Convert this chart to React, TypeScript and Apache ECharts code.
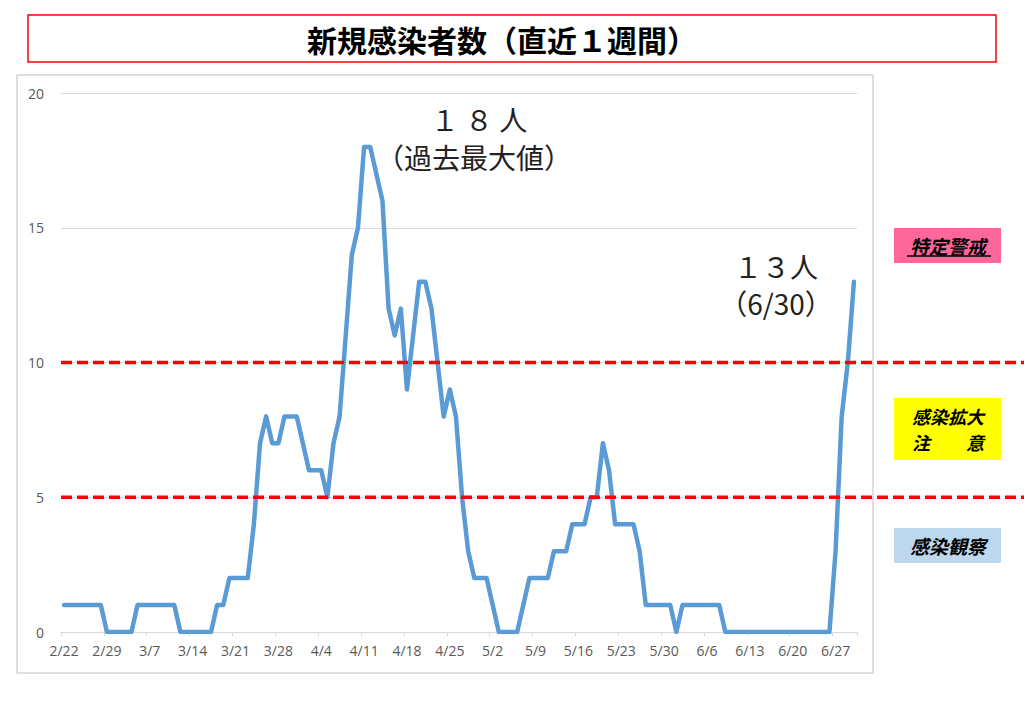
import React, { useEffect, useRef } from "react";
import * as echarts from "echarts";

// month, first day, last day (2020)
const monthSpans: number[][] = [
  [2, 22, 29],
  [3, 1, 31],
  [4, 1, 30],
  [5, 1, 31],
  [6, 1, 30],
];
const categories: string[] = [];
for (const [m, a, b] of monthSpans) for (let d = a; d <= b; d++) categories.push(`${m}/${d}`);

// daily new cases 2/22 .. 6/30
const newCases = [
  1, 1, 1, 1, 1, 1, 1, 0, 0, 0, 0, 0, 1, 1, 1, 1, 1, 1, 1, 0, 0, 0, 0, 0, 0, 1, 1, 2, 2, 2, 2,
  4, 7, 8, 7, 7, 8, 8, 8, 7, 6, 6, 6, 5, 7, 8, 11, 14, 15,
  18, 18, 17, 16, 12, 11, 12, 9, 11, 13, 13, 12, 10, 8, 9, 8,
  5, 3, 2, 2, 2, 1, 0, 0, 0, 0, 1, 2, 2, 2, 2, 3, 3, 3, 4, 4, 4, 5, 5, 7, 6, 4, 4, 4, 4, 3,
  1, 1, 1, 1, 1, 0, 1, 1, 1, 1, 1, 1, 1,
  0, 0, 0, 0, 0, 0, 0, 0, 0, 0, 0, 0, 0, 0, 0, 0, 0, 0,
  3, 8, 10, 13,
];

const yMin = 0;
const yMax = 20;
const yInterval = 5;
const thresholds = [10, 5];

const titleText = "新規感染者数（直近１週間）";
const peakNote = ["１ ８ 人", "（過去最大値）"];
const lastNote = ["１３人", "（6/30）"];
const stageLines = [["特定警戒"], ["感染拡大", "注　　意"], ["感染観察"]];
const stageColors = ["#FF6699", "#FFFF00", "#BDD7EE"];

const GRID_LEFT = 61;
const GRID_RIGHT = 167;
const JP = '"Noto Sans CJK JP", "Noto Sans", sans-serif';
const NUM = '"Open Sans", "Noto Sans", sans-serif';

export default function App() {
  const ref = useRef<HTMLDivElement>(null);
  useEffect(() => {
    if (!ref.current) return;
    const chart = echarts.init(ref.current, undefined, { renderer: "svg" });
    chart.setOption({
      animation: false,
      backgroundColor: "#FFFFFF",
      grid: { left: GRID_LEFT, right: GRID_RIGHT, top: 93, bottom: 77 },
      xAxis: {
        type: "category",
        data: categories,
        boundaryGap: true,
        axisLine: { lineStyle: { color: "#D9D9D9", width: 1 } },
        axisTick: { show: true, interval: 6, length: 4, lineStyle: { color: "#D9D9D9" } },
        axisLabel: { interval: 6, color: "#595959", fontSize: 14, fontFamily: NUM, margin: 11 },
      },
      yAxis: {
        type: "value",
        min: yMin,
        max: yMax,
        interval: yInterval,
        axisLine: { show: false },
        axisTick: { show: false },
        axisLabel: { color: "#595959", fontSize: 14, fontFamily: NUM, margin: 17 },
        splitLine: { lineStyle: { color: "#D9D9D9", width: 1 } },
      },
      series: [
        {
          type: "line",
          data: newCases,
          symbol: "none",
          z: 2,
          lineStyle: { color: "#5B9BD5", width: 4.5, join: "round", cap: "round" },
        },
      ],
    });

    const yOf = (v: number) => chart.convertToPixel({ yAxisIndex: 0 }, v) as number;
    const xOf = (i: number) => chart.convertToPixel({ xAxisIndex: 0 }, i) as number;

    const peakIdx = newCases.indexOf(Math.max(...newCases));
    const lastIdx = newCases.length - 1;

    const note = (text: string, x: number, y: number) => ({
      type: "text",
      x,
      y,
      style: { text, fill: "#222222", fontSize: 28, fontFamily: JP, align: "center", verticalAlign: "middle" },
      z: 60,
    });

    const graphics: any[] = [];
    // title box
    graphics.push({
      type: "rect",
      shape: { x: 28, y: 15, width: 968, height: 47 },
      style: { fill: "none", stroke: "#FF0000", lineWidth: 1.5 },
      z: 50,
    });
    graphics.push({
      type: "text",
      x: 502,
      y: 39,
      style: {
        text: titleText,
        fill: "#000000",
        fontSize: 30,
        fontWeight: "bold",
        fontFamily: JP,
        align: "center",
        verticalAlign: "middle",
      },
      z: 50,
    });
    // chart border
    graphics.push({
      type: "rect",
      shape: { x: 17, y: 75, width: 856, height: 598 },
      style: { fill: "none", stroke: "#BFBFBF", lineWidth: 1 },
      z: 1,
    });
    // threshold dashed lines
    for (const t of thresholds) {
      const y = yOf(t);
      graphics.push({
        type: "line",
        shape: { x1: GRID_LEFT, y1: y, x2: 1024, y2: y },
        style: { stroke: "#FF0000", lineWidth: 3.5, lineDash: [11, 5] },
        z: 100,
      });
    }
    // annotations
    const peakX = xOf(peakIdx) + 112;
    graphics.push(note(peakNote[0], peakX + 3, yOf(18) - 28));
    graphics.push(note(peakNote[1], peakX - 2, yOf(18) + 10));
    const lastX = xOf(lastIdx) - 78;
    graphics.push(note(lastNote[0], lastX, yOf(13) - 16));
    graphics.push(note(lastNote[1], lastX, yOf(13) + 21));
    // stage labels
    const boxes = [
      { y: 228, h: 35 },
      { y: 398, h: 62 },
      { y: 528, h: 35 },
    ];
    boxes.forEach((b, i) => {
      graphics.push({
        type: "rect",
        shape: { x: 894, y: b.y, width: 107, height: b.h },
        style: { fill: stageColors[i], stroke: "none" },
        z: 60,
      });
      const lines = stageLines[i];
      const step = 26;
      const y0 = b.y + b.h / 2 - ((lines.length - 1) * step) / 2;
      lines.forEach((ln, j) => {
        graphics.push({
          type: "text",
          x: 948,
          y: y0 + j * step,
          style: {
            text: ln,
            fill: "#000000",
            fontSize: lines.length > 1 ? 18 : 19,
            lineHeight: 18,
            fontWeight: "bold",
            fontStyle: "italic",
            fontFamily: JP,
            align: "center",
            verticalAlign: "middle",
          },
          z: 61,
        });
      });
    });
    // underline for first label
    graphics.push({
      type: "line",
      shape: { x1: 907, y1: 256, x2: 991, y2: 256 },
      style: { stroke: "#000000", lineWidth: 1.5 },
      z: 62,
    });
    chart.setOption({ graphic: graphics });

    return () => chart.dispose();
  }, []);
  return <div ref={ref} style={{ position: "absolute", left: 0, top: 0, width: 1024, height: 709 }} />;
}
